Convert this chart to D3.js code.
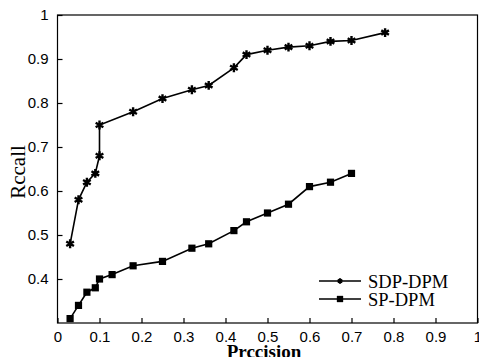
<!DOCTYPE html>
<html>
<head>
<meta charset="utf-8">
<script src="https://cdn.jsdelivr.net/npm/d3@7"></script>
<style>
  body { margin: 0; background: #fff; }
  svg { display: block; }
</style>
</head>
<body>
<svg id="chart" width="479" height="357"></svg>
<script>
// values
const sdpPrecision = [0.03, 0.05, 0.07, 0.09, 0.10, 0.10, 0.18, 0.25, 0.32, 0.36, 0.42, 0.45, 0.50, 0.55, 0.60, 0.65, 0.70, 0.78]
const sdpRecall    = [0.48, 0.58, 0.62, 0.64, 0.68, 0.75, 0.78, 0.81, 0.83, 0.84, 0.88, 0.91, 0.92, 0.927, 0.93, 0.94, 0.942, 0.96]
const spPrecision  = [0.03, 0.05, 0.07, 0.09, 0.10, 0.13, 0.18, 0.25, 0.32, 0.36, 0.42, 0.45, 0.50, 0.55, 0.60, 0.65, 0.70]
const spRecall     = [0.31, 0.34, 0.37, 0.38, 0.40, 0.41, 0.43, 0.44, 0.47, 0.48, 0.51, 0.53, 0.55, 0.57, 0.61, 0.62, 0.64]
const xTicks = [0, 0.1, 0.2, 0.3, 0.4, 0.5, 0.6, 0.7, 0.8, 0.9, 1]
const yTicks = [0.4, 0.5, 0.6, 0.7, 0.8, 0.9, 1]
const seriesNames = ['SDP-DPM', 'SP-DPM']

const svg = d3.select('#chart')
const plotLeft = 57.5, plotRight = 477.5, plotTop = 15, plotBottom = 323

const x = d3.scaleLinear().domain([0, 1]).range([plotLeft, plotRight])
const y = d3.scaleLinear().domain([0.3, 1]).range([plotBottom, plotTop])

const tickFont = '"Liberation Sans", Arial, sans-serif'
const serif = '"Liberation Serif", "Times New Roman", serif'

// frame
svg.append('rect')
    .attr('x', plotLeft).attr('y', plotTop)
    .attr('width', plotRight - plotLeft).attr('height', plotBottom - plotTop)
    .attr('fill', 'none').attr('stroke', '#000').attr('stroke-width', 1.2)

// bottom axis, ticks inward
const xAxis = svg.append('g')
    .attr('transform', 'translate(0,' + plotBottom + ')')
    .call(d3.axisBottom(x).tickValues(xTicks).tickSizeInner(-5).tickSizeOuter(0)
        .tickPadding(8).tickFormat(d => d3.format('~g')(d)))
xAxis.select('.domain').remove()
xAxis.selectAll('line').attr('stroke-width', 1.2)
xAxis.selectAll('text').style('font-family', tickFont).style('font-size', '15px').attr('fill', '#000')

// left axis, ticks inward
const yAxis = svg.append('g')
    .attr('transform', 'translate(' + plotLeft + ',0)')
    .call(d3.axisLeft(y).tickValues(yTicks).tickSizeInner(-5).tickSizeOuter(0)
        .tickPadding(9).tickFormat(d => d3.format('~g')(d)))
yAxis.select('.domain').remove()
yAxis.selectAll('line').attr('stroke-width', 1.2)
yAxis.selectAll('text').style('font-family', tickFont).style('font-size', '15px').attr('fill', '#000')

// axis titles
svg.append('text')
    .attr('x', 264).attr('y', 358)
    .attr('text-anchor', 'middle')
    .style('font-family', serif).style('font-size', '19px').style('font-weight', 'bold')
    .text('Prccision')

svg.append('text')
    .attr('transform', 'translate(25,172) rotate(-90)')
    .attr('text-anchor', 'middle')
    .style('font-family', serif).style('font-size', '21px')
    .text('Rccall')

const sdp = sdpPrecision.map((p, i) => ({ p: p, r: sdpRecall[i] }))
const sp = spPrecision.map((p, i) => ({ p: p, r: spRecall[i] }))

const line = d3.line().x(d => x(d.p)).y(d => y(d.r))

// lines
svg.append('path').datum(sdp).attr('d', line)
    .attr('fill', 'none').attr('stroke', '#000').attr('stroke-width', 1.6)
svg.append('path').datum(sp).attr('d', line)
    .attr('fill', 'none').attr('stroke', '#000').attr('stroke-width', 1.6)

// markers
const star = d3.symbol().type(d3.symbolAsterisk).size(55)
const square = d3.symbol().type(d3.symbolSquare).size(52)

svg.append('g').selectAll('path')
    .data(sdp)
    .join('path')
    .attr('transform', d => 'translate(' + x(d.p) + ',' + y(d.r) + ')')
    .attr('d', star)
    .attr('fill', 'none').attr('stroke', '#000').attr('stroke-width', 2.4)

svg.append('g').selectAll('path')
    .data(sp)
    .join('path')
    .attr('transform', d => 'translate(' + x(d.p) + ',' + y(d.r) + ')')
    .attr('d', square)
    .attr('fill', '#000')

// legend
const legend = svg.append('g')
const legendY = [281, 299]
seriesNames.forEach((name, i) => {
    legend.append('line')
        .attr('x1', 319).attr('x2', 361)
        .attr('y1', legendY[i]).attr('y2', legendY[i])
        .attr('stroke', '#000').attr('stroke-width', 1.6)
    legend.append('path')
        .attr('transform', 'translate(340,' + legendY[i] + ')')
        .attr('d', i === 0 ? d3.symbol().type(d3.symbolAsterisk).size(20)() : d3.symbol().type(d3.symbolSquare).size(40)())
        .attr('fill', i === 0 ? 'none' : '#000')
        .attr('stroke', '#000').attr('stroke-width', i === 0 ? 2 : 0)
    legend.append('text')
        .attr('x', 368).attr('y', legendY[i] + 6.5)
        .style('font-family', serif).style('font-size', '18.5px')
        .text(name)
})
</script>
</body>
</html>
